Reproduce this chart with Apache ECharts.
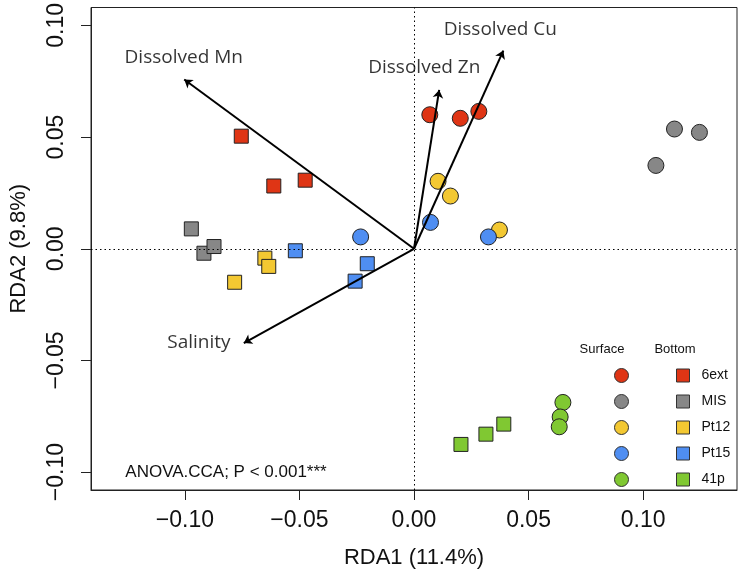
<!DOCTYPE html>
<html lang="en">
<head>
    <meta charset="UTF-8">
    <title>RDA biplot</title>
    <script src="https://cdn.jsdelivr.net/npm/echarts@6/dist/echarts.min.js"></script>
    <style>
        html, body { margin: 0; padding: 0; background: #fff; }
    </style>
</head>
<body>
    <div id="myChart" style="width: 739px; height: 577px;"></div>
    <script>
        // stations and colours
        var stations = ['6ext', 'MIS', 'Pt12', 'Pt15', '41p'];
        var stationColors = ['#df3515', '#878787', '#f3c832', '#4f8ef2', '#80c832'];

        // site scores (RDA1, RDA2), surface samples
        var surface6ext = [[0.0069, 0.0600], [0.0202, 0.0584], [0.0283, 0.0615]];
        var surfaceMIS = [[0.1137, 0.0536], [0.1246, 0.0521], [0.1056, 0.0373]];
        var surfacePt12 = [[0.0105, 0.0302], [0.0159, 0.0236], [0.0373, 0.0084]];
        var surfacePt15 = [[0.0072, 0.0118], [-0.0233, 0.0053], [0.0325, 0.0053]];
        var surface41p = [[0.0650, -0.0688], [0.0638, -0.0753], [0.0634, -0.0797]];

        // site scores, bottom samples
        var bottom6ext = [[-0.0754, 0.0504], [-0.0612, 0.0281], [-0.0475, 0.0307]];
        var bottomMIS = [[-0.0972, 0.0089], [-0.0917, -0.0020], [-0.0873, 0.0010]];
        var bottomPt12 = [[-0.0651, -0.0042], [-0.0634, -0.0079], [-0.0783, -0.0150]];
        var bottomPt15 = [[-0.0518, -0.0009], [-0.0204, -0.0067], [-0.0257, -0.0145]];
        var bottom41p = [[0.0392, -0.0785], [0.0314, -0.0830], [0.0205, -0.0876]];

        // environmental vectors (arrow tips) and where their labels sit
        var envNames = ['Dissolved Mn', 'Dissolved Zn', 'Dissolved Cu', 'Salinity'];
        var envTips = [[-0.1003, 0.0758], [0.0110, 0.0711], [0.0390, 0.0887], [-0.0743, -0.0422]];
        var envLabelPos = [[-0.1005, 0.0855], [0.0045, 0.0810], [0.0377, 0.0980], [-0.0939, -0.0418]];

        // axis ticks
        var xTicks = [-0.10, -0.05, 0.00, 0.05, 0.10];
        var yTicks = [-0.10, -0.05, 0.00, 0.05, 0.10];

        var surfaceData = [surface6ext, surfaceMIS, surfacePt12, surfacePt15, surface41p];
        var bottomData = [bottom6ext, bottomMIS, bottomPt12, bottomPt15, bottom41p];

        var myChart = echarts.init(document.getElementById('myChart'));

        function fmtTick(v) {
            var s = Math.abs(v).toFixed(2);
            return v < -1e-9 ? '\u2212' + s : s;
        }

        var series = [];
        // bottom = squares
        for (var i = 0; i < stations.length; i++) {
            series.push({
                name: stations[i],
                type: 'scatter',
                symbol: 'rect',
                symbolSize: 14,
                itemStyle: { color: stationColors[i], borderColor: '#222', borderWidth: 1, opacity: 1 },
                data: bottomData[i],
                z: 2
            });
        }
        // surface = circles
        for (var i = 0; i < stations.length; i++) {
            series.push({
                name: stations[i] + ' surface',
                type: 'scatter',
                symbol: 'circle',
                symbolSize: 16,
                itemStyle: { color: stationColors[i], borderColor: '#222', borderWidth: 1, opacity: 1 },
                data: surfaceData[i],
                z: 2
            });
        }

        // arrows from the origin
        series.push({
            name: 'arrows',
            type: 'lines',
            coordinateSystem: 'cartesian2d',
            symbol: ['none', 'arrow'],
            symbolSize: 8,
            lineStyle: { color: '#000', width: 2, opacity: 1 },
            data: envTips.map(function (t) { return { coords: [[0, 0], t] }; }),
            z: 5,
            silent: true
        });

        // arrow labels + dotted zero lines
        series.push({
            name: 'env labels',
            type: 'scatter',
            symbolSize: 0,
            data: envLabelPos.map(function (p, k) { return { value: p, name: envNames[k] }; }),
            label: {
                show: true,
                position: 'inside',
                formatter: '{b}',
                color: '#000',
                fontFamily: 'Open Sans',
                fontSize: 19
            },
            markLine: {
                silent: true,
                symbol: 'none',
                label: { show: false },
                lineStyle: { color: '#000', width: 1, type: [1.5, 3] },
                data: [{ xAxis: 0 }, { yAxis: 0 }]
            },
            z: 1
        });

        var option = {
            animation: false,
            backgroundColor: '#fff',
            grid: {
                left: 87, right: 2, top: 4, bottom: 87,
                show: true, borderColor: '#222', borderWidth: 1
            },
            xAxis: {
                type: 'value',
                min: -0.141, max: 0.141,
                name: 'RDA1 (11.4%)',
                nameLocation: 'middle',
                nameGap: 57,
                nameTextStyle: { fontFamily: 'Liberation Sans', fontSize: 22, color: '#111' },
                axisLine: { onZero: false, lineStyle: { color: '#222' } },
                axisTick: { show: true, length: 10, customValues: xTicks, lineStyle: { color: '#222' } },
                axisLabel: {
                    customValues: xTicks,
                    margin: 19,
                    formatter: fmtTick,
                    fontFamily: 'Liberation Sans', fontSize: 23, color: '#111'
                },
                splitLine: { show: false }
            },
            yAxis: {
                type: 'value',
                min: -0.108, max: 0.108,
                name: 'RDA2 (9.8%)',
                nameLocation: 'middle',
                nameRotate: 90,
                nameGap: 61,
                nameTextStyle: { fontFamily: 'Liberation Sans', fontSize: 22, color: '#111' },
                axisLine: { onZero: false, lineStyle: { color: '#222' } },
                axisTick: { show: true, length: 10, customValues: yTicks, lineStyle: { color: '#222' } },
                axisLabel: {
                    customValues: yTicks,
                    rotate: 90,
                    margin: 23,
                    formatter: fmtTick,
                    fontFamily: 'Liberation Sans', fontSize: 23, color: '#111'
                },
                splitLine: { show: false }
            },
            legend: [
                {
                    data: stations.map(function (s) { return s + ' surface'; }),
                    orient: 'vertical',
                    left: 614, top: 368,
                    padding: 0,
                    icon: 'circle',
                    itemWidth: 14, itemHeight: 14,
                    itemGap: 11,
                    itemStyle: { borderWidth: 1, borderColor: '#333' },
                    textStyle: { fontSize: 10, lineHeight: 12 },
                    formatter: function () { return ''; },
                    selectedMode: false
                },
                {
                    data: stations,
                    orient: 'vertical',
                    left: 676, top: 368.5,
                    padding: 0,
                    icon: 'rect',
                    itemWidth: 13, itemHeight: 13,
                    itemGap: 12,
                    itemStyle: { borderWidth: 1, borderColor: '#333' },
                    textStyle: {
                        fontFamily: 'Liberation Sans', fontSize: 14, lineHeight: 13,
                        color: '#111', padding: [0, 0, 0, 7]
                    },
                    selectedMode: false
                }
            ],
            graphic: [
                {
                    type: 'text', x: 602, y: 349,
                    style: { text: 'Surface', font: '13px "Liberation Sans"', fill: '#111', textAlign: 'center', textVerticalAlign: 'middle' }
                },
                {
                    type: 'text', x: 675, y: 349,
                    style: { text: 'Bottom', font: '13px "Liberation Sans"', fill: '#111', textAlign: 'center', textVerticalAlign: 'middle' }
                },
                {
                    type: 'text', x: 226, y: 472,
                    style: { text: 'ANOVA.CCA; P < 0.001***', font: '17px "Liberation Sans"', fill: '#111', textAlign: 'center', textVerticalAlign: 'middle' }
                }
            ],
            series: series
        };

        myChart.setOption(option);
    </script>
</body>
</html>
